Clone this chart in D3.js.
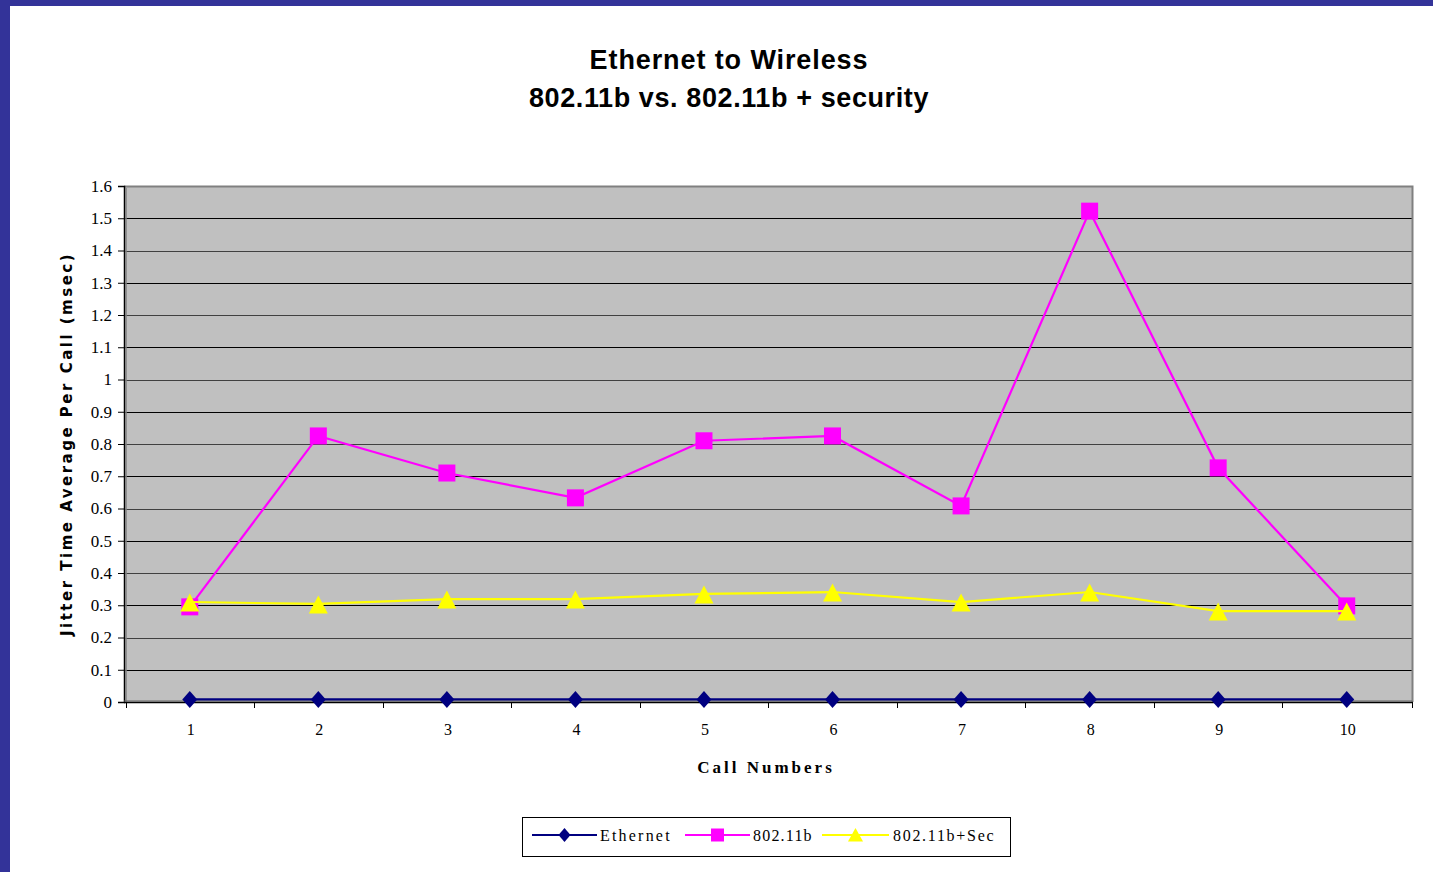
<!DOCTYPE html>
<html>
<head>
<meta charset="utf-8">
<script src="https://cdn.jsdelivr.net/npm/d3@7"></script>
<style>
  html, body { margin: 0; padding: 0; background: #fff; }
  svg { display: block; }
</style>
</head>
<body>
<script>
// Jitter per call, three link configurations
const calls = ["1", "2", "3", "4", "5", "6", "7", "8", "9", "10"];
const ethernet = [0.008, 0.008, 0.008, 0.008, 0.008, 0.008, 0.008, 0.008, 0.008, 0.008];
const wifi = [0.295, 0.825, 0.71, 0.633, 0.81, 0.825, 0.608, 1.522, 0.726, 0.298];
const wifiSec = [0.31, 0.304, 0.319, 0.319, 0.335, 0.341, 0.31, 0.341, 0.282, 0.282];
const yTicks = [0, 0.1, 0.2, 0.3, 0.4, 0.5, 0.6, 0.7, 0.8, 0.9, 1, 1.1, 1.2, 1.3, 1.4, 1.5, 1.6];

const series = [
  { name: "Ethernet", values: ethernet, color: "#000080", symbol: "diamond" },
  { name: "802.11b", values: wifi, color: "#ff00ff", symbol: "square" },
  { name: "802.11b+Sec", values: wifiSec, color: "#ffff00", symbol: "triangle" }
];

const W = 1433, H = 872;
const plot = { left: 124, right: 1412, top: 186, bottom: 702 };

const svg = d3.select("body").append("svg").attr("width", W).attr("height", H);

// slide frame
svg.append("rect").attr("x", 0).attr("y", 0).attr("width", W).attr("height", H).attr("fill", "#333399");
svg.append("rect").attr("x", 10).attr("y", 6).attr("width", W - 10).attr("height", H - 6).attr("fill", "#fff");

const x = d3.scaleBand().domain(calls).range([125.5, 1411]);
const y = d3.scaleLinear().domain([0, 1.6]).range([plot.bottom, plot.top]);
const cx = d => x(d) + x.bandwidth() / 2;

// plot background
svg.append("rect")
  .attr("x", plot.left).attr("y", plot.top)
  .attr("width", plot.right - plot.left).attr("height", plot.bottom - plot.top)
  .attr("fill", "#c0c0c0");

// gridlines
svg.append("g").selectAll("line").data(yTicks.slice(1)).join("line")
  .attr("x1", plot.left).attr("x2", plot.right)
  .attr("y1", d => Math.round(y(d)) + 0.5).attr("y2", d => Math.round(y(d)) + 0.5)
  .attr("stroke", (d, i) => i % 2 ? "#404040" : "#000").attr("stroke-width", 1);

// plot border (top and right)
svg.append("path")
  .attr("d", `M${plot.left},${plot.top + 0.5}H${plot.right + 0.5}V${plot.bottom}`)
  .attr("fill", "none").attr("stroke", "#808080").attr("stroke-width", 2);

// y axis
const yAxis = d3.axisLeft(y).tickValues(yTicks).tickSize(6).tickPadding(6)
  .tickFormat(d => d3.format("")(+d.toFixed(1)));
const gy = svg.append("g").attr("transform", `translate(${plot.left},0)`).call(yAxis);
gy.select(".domain").attr("stroke", "#000").attr("stroke-width", 1.5);
gy.selectAll(".tick line").attr("stroke", "#000");
gy.selectAll("text").attr("font-family", "'Liberation Serif', 'Times New Roman', serif")
  .attr("font-size", 17).attr("fill", "#000");
// axis shadow
svg.append("line").attr("x1", plot.left + 2).attr("x2", plot.left + 2)
  .attr("y1", plot.top + 2).attr("y2", plot.bottom)
  .attr("stroke", "#808080").attr("stroke-width", 1.5);

// x axis: ticks between categories, labels at centres
const boundaries = calls.map(c => x(c)).concat([plot.right]);
const gx = svg.append("g");
gx.append("line").attr("x1", plot.left).attr("x2", plot.right + 1)
  .attr("y1", plot.bottom + 0.5).attr("y2", plot.bottom + 0.5)
  .attr("stroke", "#000").attr("stroke-width", 1.5);
gx.append("line").attr("x1", plot.left).attr("x2", plot.right)
  .attr("y1", plot.bottom - 1).attr("y2", plot.bottom - 1)
  .attr("stroke", "#606060").attr("stroke-width", 1);
gx.selectAll("line.tk").data(boundaries).join("line").attr("class", "tk")
  .attr("x1", d => Math.round(d) + 0.5).attr("x2", d => Math.round(d) + 0.5)
  .attr("y1", plot.bottom).attr("y2", plot.bottom + 6)
  .attr("stroke", "#000");
gx.selectAll("text").data(calls).join("text")
  .attr("x", d => cx(d) + 1)
  .attr("y", plot.bottom + 33)
  .attr("text-anchor", "middle")
  .attr("font-family", "'Liberation Serif', 'Times New Roman', serif")
  .attr("font-size", 16).attr("fill", "#000")
  .text(d => d);

// marker shapes
const markers = {
  diamond: "M0,-8.5L7.5,0L0,8.5L-7.5,0Z",
  square: "M-8.5,-8.5H8.5V8.5H-8.5Z",
  triangle: "M0,-8.5L9.5,9.5H-9.5Z"
};
const legendMarkers = {
  diamond: "M0,-7L6,0L0,7L-6,0Z",
  square: "M-6.5,-6.5H6.5V6.5H-6.5Z",
  triangle: "M0,-7L7.5,6.5H-7.5Z"
};

// series lines and markers
const line = d3.line().x((v, i) => cx(calls[i])).y(v => y(v));

function drawSeries(s) {
  const g = svg.append("g");
  g.append("path").attr("d", line(s.values))
    .attr("fill", "none").attr("stroke", s.color).attr("stroke-width", 2.2);
  g.selectAll("path.m").data(s.values).join("path").attr("class", "m")
    .attr("transform", (v, i) => `translate(${cx(calls[i])},${y(v)})`)
    .attr("d", markers[s.symbol])
    .attr("fill", s.color);
}
series.forEach(drawSeries);

// titles
const title = svg.append("text").attr("text-anchor", "middle")
  .attr("font-family", "'Liberation Sans', Arial, sans-serif")
  .attr("font-weight", "bold").attr("font-size", 27).attr("fill", "#000");
title.append("tspan").attr("x", 729).attr("y", 69).attr("letter-spacing", 0.9).text("Ethernet to Wireless");
title.append("tspan").attr("x", 729).attr("y", 107).attr("letter-spacing", 0.6).text("802.11b vs. 802.11b + security");

svg.append("text")
  .attr("x", 766).attr("y", 773).attr("text-anchor", "middle")
  .attr("font-family", "'Liberation Serif', 'Times New Roman', serif")
  .attr("font-weight", "bold").attr("font-size", 17).attr("letter-spacing", 3)
  .attr("fill", "#000").text("Call Numbers");

svg.append("text")
  .attr("transform", "translate(72,444) rotate(-90)")
  .attr("text-anchor", "middle")
  .attr("font-family", "'DejaVu Sans', 'Liberation Sans', sans-serif")
  .attr("font-weight", "bold").attr("font-size", 15).attr("letter-spacing", 2.5)
  .attr("fill", "#000").text("Jitter Time Average Per Call (msec)");

// legend
const lg = svg.append("g");
lg.append("rect").attr("x", 522.5).attr("y", 817.5).attr("width", 488).attr("height", 39)
  .attr("fill", "#fff").attr("stroke", "#000").attr("stroke-width", 1);
const legendPos = [
  { x0: 532, x1: 597, tx: 600, ls: 2.2 },
  { x0: 685, x1: 750, tx: 753, ls: 1.2 },
  { x0: 822, x1: 889, tx: 893, ls: 1.7 }
];
series.forEach((s, i) => {
  const p = legendPos[i];
  const ly = 835;
  lg.append("line").attr("x1", p.x0).attr("x2", p.x1).attr("y1", ly).attr("y2", ly)
    .attr("stroke", s.color).attr("stroke-width", 2.2);
  lg.append("path").attr("transform", `translate(${(p.x0 + p.x1) / 2},${ly})`)
    .attr("d", legendMarkers[s.symbol])
    .attr("fill", s.color);
  lg.append("text").attr("x", p.tx).attr("y", ly + 6)
    .attr("font-family", "'Liberation Serif', 'Times New Roman', serif")
    .attr("font-size", 16).attr("letter-spacing", p.ls).attr("fill", "#000")
    .text(s.name);
});
</script>
</body>
</html>
